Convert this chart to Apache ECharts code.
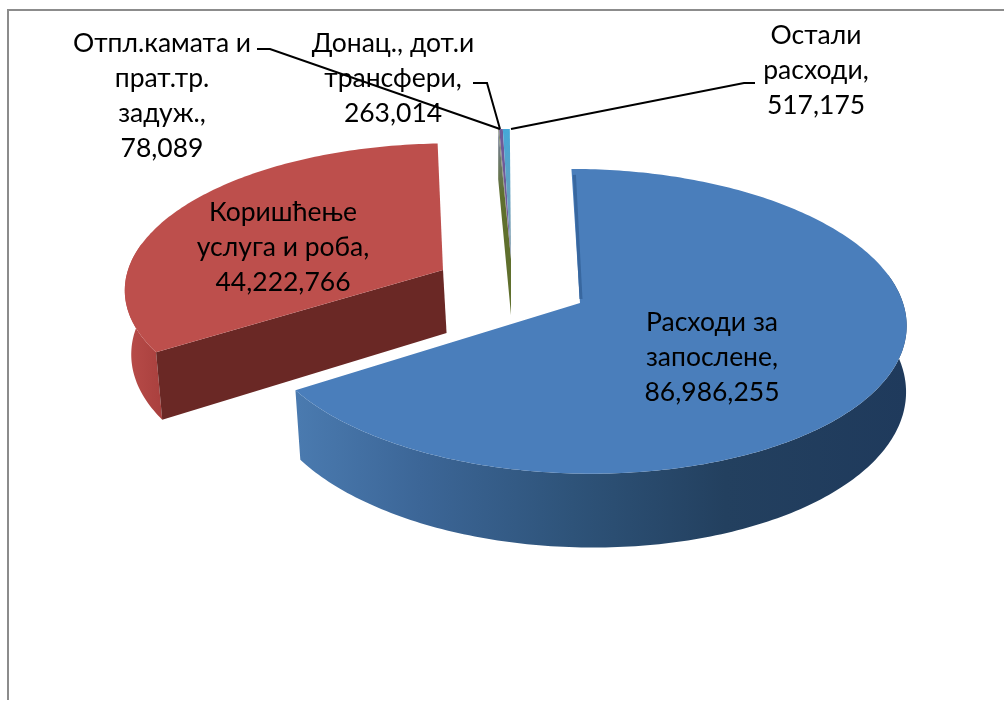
<!DOCTYPE html>
<html>
<head>
<meta charset="utf-8">
<title>Расходи</title>
<style>
  html, body { margin: 0; padding: 0; background: #fff; }
  #chart { width: 1004px; height: 701px; }
</style>
<script src="https://cdn.jsdelivr.net/npm/echarts@6/dist/echarts.min.js"></script>
</head>
<body>
<div id="chart"></div>
<script>
// values, clockwise from 12 o'clock
const categories = [
  "Расходи за\nзапослене,",
  "Коришћење\nуслуга и роба,",
  "Отпл.камата и\nпрат.тр.\nзадуж.,",
  "Донац., дот.и\nтрансфери,",
  "Остали\nрасходи,",
];
const values = [86986255, 44222766, 78089, 263014, 517175];

function vertical(y1, y2, from, to) {
  return {
    type: "linear", global: true, x: 0, y: y1, x2: 0, y2: y2,
    colorStops: [{ offset: 0, color: from }, { offset: 1, color: to }],
  };
}

const topColors = [
  "#4a7ebb",
  "#bd4f4c",
  "#7f8a6a",
  "#6f5a98",
  vertical(130, 250, "#45a8d8", "#7f9bab"),
];
const outerWallColors = [
  [[0, "#4a7aaf"], [0.2, "#3c6697"], [0.45, "#2e5379"], [0.7, "#23405f"], [1, "#1f3a5c"]],
  [[0, "#b84c49"], [1, "#a83f3d"]],
  null, null, null,
];
const cutWallColors = [null, "#6a2825", vertical(135, 195, "#76809a", "#5f6f2d"), null, null];

// perspective of the tilted pie
const vanishX = 500;
const perspective = 0.12;
const shrinkX = 840;

// exploded slices: offset from vanishX, apex y, radius, flattening, wall depth, wall pull
const sliceLayout = [
  { dx: 80, cy: 303, r: 323, tilt: 0.465, depth: 65, shrink: 0.009 },
  { dx: -57, cy: 270, r: 315, tilt: 0.45, depth: 63, shrink: 0.009 },
  { dx: 11, cy: 259, r: 320, tilt: 0.455, depth: 56, shrink: 0 },
  { dx: 11, cy: 259, r: 320, tilt: 0.455, depth: 56, shrink: 0 },
  { dx: 11, cy: 259, r: 320, tilt: 0.455, depth: 56, shrink: 0 },
];

const labelPos = [[712, 357], [283, 247], [162, 96], [393, 78], [816, 70]];
const leaders = [
  null,
  null,
  [[257, 49], [270, 49], [500, 129]],
  [[473, 83], [487, 83], [500, 129]],
  [[755, 83], [744, 83], [511, 129]],
];

const fontFamily = "Lato, 'Open Sans', 'Noto Sans', sans-serif";
const total = values.reduce((a, b) => a + b, 0);

function project(s, angle, radius) {
  const u = Math.sin(angle) * radius;
  const v = Math.cos(angle) * radius;
  const w = 1 / (1 + perspective * v);
  return {
    x: vanishX + (s.dx + s.r * u) * w,
    y: s.cy - s.r * s.tilt * v * w,
    v: v,
    w: w,
  };
}

function drop(s, p) {
  return [p.x + (shrinkX - p.x) * s.shrink, p.y + s.depth * p.w];
}

function renderSlice(params, api) {
  const i = params.dataIndex;
  const s = sliceLayout[i];
  let before = 0;
  for (let k = 0; k < i; k++) before += values[k];
  const a0 = (before / total) * Math.PI * 2;
  const a1 = ((before + api.value(0)) / total) * Math.PI * 2;

  const steps = Math.max(2, Math.ceil((a1 - a0) * 60));
  const rim = [];
  for (let k = 0; k <= steps; k++) {
    rim.push(project(s, a0 + ((a1 - a0) * k) / steps, 1));
  }
  const apex = project(s, 0, 0);
  const rimPts = rim.map((p) => [p.x, p.y]);
  const first = rim[0];
  const children = [];

  if (outerWallColors[i]) {
    // back of the rim would peek out past the cut edges, only the front has a wall
    const front = rim.filter((p) => p.v < 0.2);
    const lower = front.map((p) => drop(s, p)).reverse();
    children.push({
      type: "polygon",
      shape: { points: front.map((p) => [p.x, p.y]).concat(lower) },
      style: {
        fill: {
          type: "linear",
          global: true,
          x: i === 0 ? 298 : 127,
          y: 0,
          x2: i === 0 ? 908 : 165,
          y2: 0,
          colorStops: outerWallColors[i].map((c) => ({ offset: c[0], color: c[1] })),
        },
      },
    });
  }
  if (cutWallColors[i]) {
    // the face that looks at the viewer: red's is the first edge, the sliver's too
    children.push({
      type: "polygon",
      shape: {
        points: [[first.x, first.y], drop(s, first), drop(s, apex), [apex.x, apex.y]],
      },
      style: { fill: cutWallColors[i] },
    });
  }
  children.push({
    type: "polygon",
    shape: { points: rimPts.concat([[apex.x, apex.y]]) },
    style: { fill: topColors[i] },
  });
  if (i === 0) {
    // dark strip down the inner cut of the big slice
    children.push({
      type: "line",
      shape: { x1: first.x + 3, y1: first.y + 6, x2: apex.x + 1, y2: apex.y - 4 },
      style: { stroke: "#38679f", lineWidth: 3 },
    });
  }

  children.push({
    type: "text",
    x: labelPos[i][0],
    y: labelPos[i][1],
    z2: 10,
    style: {
      text: categories[i] + "\n" + values[i].toLocaleString("en-US"),
      fontFamily: fontFamily,
      fontSize: 26.5,
      lineHeight: 35,
      fill: "#000",
      align: "center",
      verticalAlign: "middle",
    },
  });
  if (leaders[i]) {
    children.push({
      type: "polyline",
      z2: 11,
      shape: { points: leaders[i] },
      style: { stroke: "#000", lineWidth: 2, fill: null },
    });
  }
  return { type: "group", children: children };
}

const chart = echarts.init(document.getElementById("chart"));
chart.setOption({
  animation: false,
  backgroundColor: "#fff",
  graphic: [
    {
      type: "polyline",
      shape: { points: [[8, 700], [8, 10], [1004, 10]] },
      style: { stroke: "#8c8c8c", lineWidth: 2, fill: null },
    },
  ],
  series: [
    {
      type: "custom",
      coordinateSystem: "none",
      silent: true,
      data: values.map((v) => [v]),
      renderItem: renderSlice,
    },
  ],
});
</script>
</body>
</html>
